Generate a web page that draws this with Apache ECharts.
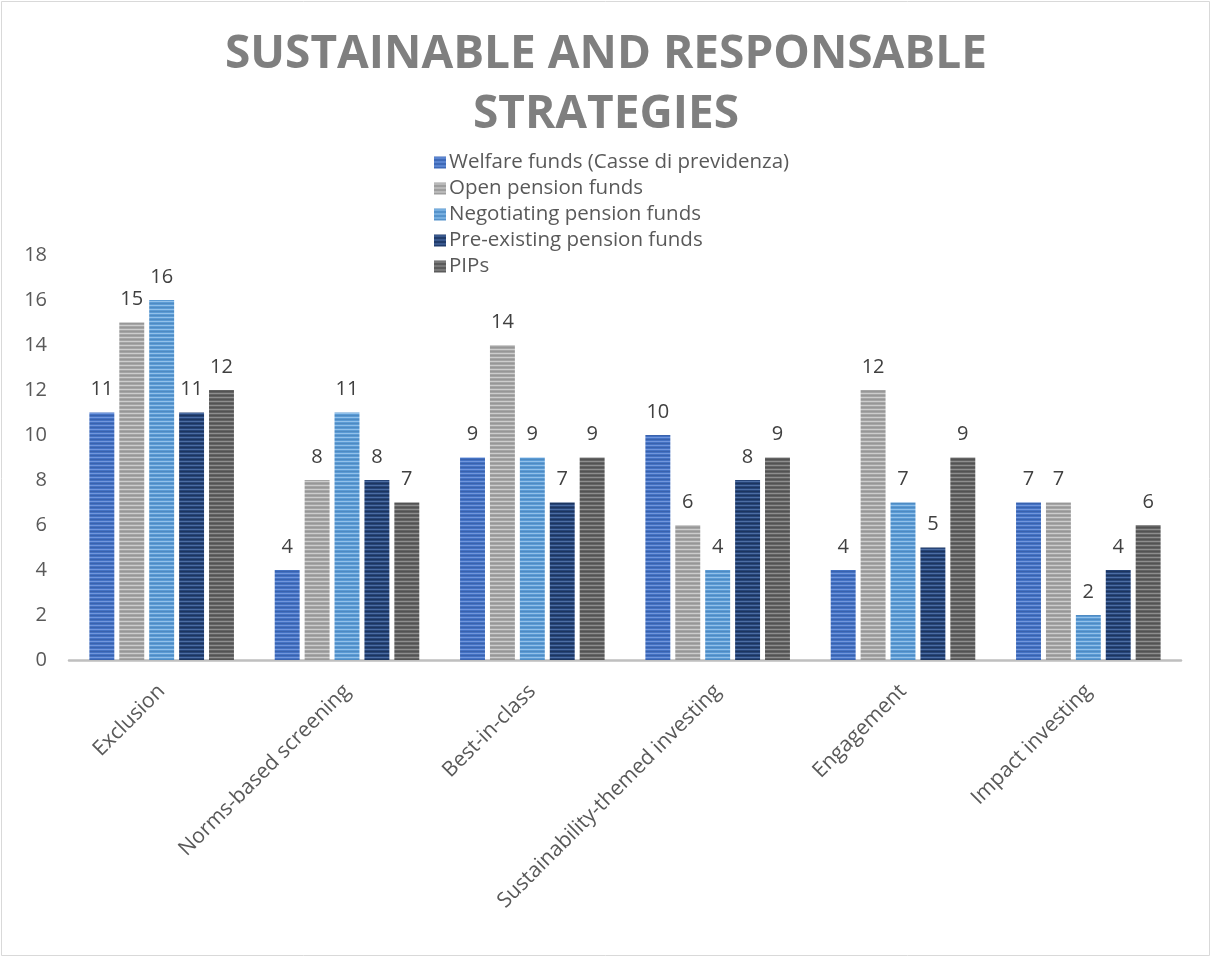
<!DOCTYPE html>
<html><head><meta charset="utf-8">
<script src="https://cdn.jsdelivr.net/npm/echarts@6/dist/echarts.min.js"></script>
<style>html,body{margin:0;padding:0;background:#fff}#c{width:1212px;height:958px}</style>
</head><body><div id="c"></div>
<script>
const categories = ['Exclusion','Norms-based screening','Best-in-class','Sustainability-themed investing','Engagement','Impact investing'];
const seriesNames = ['Welfare funds (Casse di previdenza)','Open pension funds','Negotiating pension funds','Pre-existing pension funds','PIPs'];
const welfare = [11,4,9,10,4,7];
const openFunds = [15,8,14,6,12,7];
const negotiating = [16,11,9,4,7,2];
const preExisting = [11,8,7,8,5,4];
const pips = [12,7,9,9,9,6];
const yTicks = {min:0, max:18, interval:2};

const palettes = [
  ['#4472C4','#7196dc','#3a62ad'],
  ['#A5A5A5','#cdcdcd','#979797'],
  ['#5B9BD5','#92c1ea','#4f8bc2'],
  ['#264478','#4c6da3','#1c355f'],
  ['#636363','#8e8e8e','#535353']
];
function stripe(p){
  const c=document.createElement('canvas'); c.width=4; c.height=4;
  const g=c.getContext('2d');
  const rows=[p[0],p[1],p[0],p[2]];
  rows.forEach((col,i)=>{g.fillStyle=col; g.fillRect(0,i,4,1);});
  return {image:c, repeat:'repeat'};
}
const values=[welfare,openFunds,negotiating,preExisting,pips];
const font="'Open Sans', sans-serif";
const chart=echarts.init(document.getElementById('c'));
chart.setOption({
  animation:false,
  backgroundColor:'#fff',
  title:{text:'SUSTAINABLE AND RESPONSABLE\nSTRATEGIES',left:'center',top:20,
    textStyle:{fontFamily:font,fontWeight:'bold',fontSize:46,color:'#7f7f7f',lineHeight:60}},
  legend:{orient:'vertical',left:429,top:147,itemWidth:12,itemHeight:12,itemGap:5,
    icon:'rect',textStyle:{fontFamily:font,fontSize:20.5,color:'#595959',padding:[0,0,0,-2]},
    data:seriesNames},
  graphic:[{type:'rect',shape:{x:1.5,y:1.5,width:1208,height:954},style:{fill:'none',stroke:'#d9d9d9',lineWidth:1},silent:true}],
  grid:{left:69,right:31,top:255,bottom:298,containLabel:false},
  xAxis:{type:'category',data:categories,
    axisLine:{lineStyle:{color:'#bfbfbf',width:2.5}},axisTick:{show:false},
    axisLabel:{rotate:45,interval:0,margin:28,fontFamily:font,fontSize:21,color:'#595959'}},
  yAxis:{type:'value',min:yTicks.min,max:yTicks.max,interval:yTicks.interval,
    splitLine:{show:false},axisLine:{show:false},axisTick:{show:false},
    axisLabel:{margin:22,fontFamily:font,fontSize:20,color:'#595959'}},
  series:values.map((v,i)=>({name:seriesNames[i],type:'bar',data:v,
    barGap:'20%',barCategoryGap:'22%',
    itemStyle:{color:stripe(palettes[i])},
    label:{show:true,position:'top',distance:13,fontFamily:font,fontSize:20,color:'#404040'}}))
});
</script></body></html>
